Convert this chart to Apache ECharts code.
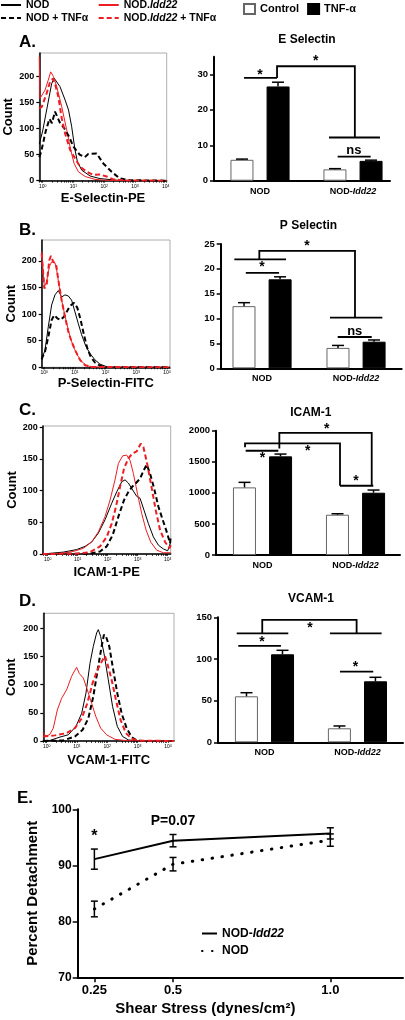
<!DOCTYPE html>
<html><head><meta charset="utf-8">
<script src="https://cdn.jsdelivr.net/npm/echarts@6/dist/echarts.min.js"></script>
<style>html,body{margin:0;padding:0;background:#fff}#c{width:405px;height:1020px}</style>
</head><body><div id="c"></div>
<script>
// ================= DATA =================
// Histograms: [log10 fluorescence, count]
const histNames = ['NOD', 'NOD + TNFα', 'NOD.Idd22', 'NOD.Idd22 + TNFα'];
const histTickExp = [0, 1, 2, 3, 4];
const histCountTicks = [0, 50, 100, 150, 200];

const histA_NOD = [[-0.11,70],[0.0,95],[0.29,185],[0.37,196],[0.56,180],[0.73,154],[0.84,135],[0.94,104],[1.05,59],[1.13,36],[1.27,20],[1.54,9],[1.86,4],[2.4,1],[3.0,0],[4.03,0]];
const histA_NOD_TNF = [[-0.11,45],[-0.05,55],[0.1,95],[0.22,118],[0.3,110],[0.4,132],[0.55,112],[0.7,100],[0.85,85],[1.0,65],[1.2,50],[1.37,45],[1.48,51],[1.75,52],[1.97,33],[2.24,17],[2.5,4.5],[2.84,1],[4.03,0]];
const histA_IDD = [[-0.11,237],[-0.09,157],[0.076,173],[0.18,192],[0.26,208],[0.35,199],[0.455,180],[0.62,141],[0.78,97],[0.91,59],[1.02,33],[1.16,17],[1.38,8],[1.7,2.5],[2.08,0.6],[4.03,0]];
const histA_IDD_TNF = [[-0.11,138],[-0.03,141],[0.13,167],[0.24,189],[0.33,195],[0.41,183],[0.51,160],[0.62,119],[0.73,90],[0.89,59],[1.05,43],[1.21,27],[1.43,17],[1.65,11],[1.86,12],[2.08,8],[2.3,2.5],[2.62,0.6],[4.03,0]];

const histB_NOD = [[-0.085,15],[-0.054,20],[0.022,32],[0.13,76],[0.239,117],[0.348,136],[0.457,144],[0.565,132],[0.674,136],[0.783,134],[0.891,126],[1.0,104],[1.109,82],[1.217,61],[1.359,39],[1.489,26],[1.652,14],[1.815,6],[2.033,1.2],[2.36,0],[4.1,0]];
const histB_NOD_TNF = [[-0.085,15],[-0.054,20],[0.022,29],[0.13,57],[0.239,89],[0.326,98],[0.424,92],[0.533,89],[0.641,95],[0.728,104],[0.837,115],[0.967,121],[1.076,112],[1.185,89],[1.293,61],[1.402,36],[1.511,20],[1.652,9],[1.815,3],[1.978,0.6],[2.3,0],[4.1,0]];
const histB_IDD = [[-0.085,217],[0,151],[0.076,161],[0.163,189],[0.239,198],[0.293,195],[0.348,196],[0.402,183],[0.511,142],[0.62,111],[0.728,83],[0.837,58],[0.946,39],[1.076,23],[1.217,11],[1.38,3],[1.6,0.6],[4.1,0]];
const histB_IDD_TNF = [[-0.085,214],[0,148],[0.076,154],[0.163,201],[0.217,209],[0.293,198],[0.38,195],[0.457,164],[0.565,126],[0.674,95],[0.783,67],[0.891,48],[1.033,29],[1.163,14],[1.326,4],[1.543,0.6],[4.1,0]];

const histC_NOD = [[-0.167,0],[0.522,3],[0.967,7],[1.244,12],[1.467,19],[1.689,33],[1.911,54],[2.133,80],[2.3,98],[2.467,114],[2.578,117],[2.689,112],[2.833,101],[2.967,91],[3.078,88],[3.211,69],[3.356,48],[3.522,27],[3.689,14],[3.856,8],[4.0,5],[4.1,19]];
const histC_NOD_TNF = [[-0.167,0],[1.411,0.5],[1.744,4],[1.967,12],[2.167,30],[2.356,59],[2.544,85],[2.689,98],[2.833,107],[2.944,112],[3.078,119],[3.211,133],[3.3,141],[3.411,127],[3.544,104],[3.689,75],[3.833,54],[3.967,35],[4.078,17],[4.1,27]];
const histC_IDD = [[-0.167,0],[0.411,1],[0.856,4],[1.189,9],[1.467,19],[1.689,35],[1.911,59],[2.078,85],[2.244,117],[2.356,143],[2.5,155],[2.633,156],[2.744,148],[2.856,127],[2.989,96],[3.133,64],[3.278,38],[3.433,19],[3.633,6],[3.856,2],[4.1,2]];
const histC_IDD_TNF = [[-0.167,0],[0.967,0.5],[1.411,3],[1.744,12],[1.967,27],[2.133,48],[2.278,75],[2.411,106],[2.544,135],[2.689,151],[2.833,159],[2.967,162],[3.1,174],[3.189,169],[3.322,141],[3.467,104],[3.611,67],[3.744,38],[3.911,19],[4.056,9],[4.1,14]];

const histD_NOD = [[-0.11,0],[0.11,1],[0.44,7],[0.714,11],[0.967,26],[1.154,49],[1.297,85],[1.429,138],[1.538,168],[1.648,192],[1.703,198],[1.78,186],[1.89,156],[2.033,109],[2.176,61],[2.33,26],[2.505,8],[2.692,2],[2.967,0],[4.2,0]];
const histD_NOD_TNF = [[-0.11,0],[0.549,1],[0.934,8],[1.187,20],[1.374,40],[1.538,79],[1.681,126],[1.813,168],[1.89,189],[1.956,186],[2.066,168],[2.198,126],[2.33,85],[2.473,49],[2.637,23],[2.802,7],[2.967,1],[3.187,0],[4.2,0]];
const histD_IDD = [[-0.11,15],[-0.022,8],[0.11,12],[0.22,23],[0.352,55],[0.495,76],[0.659,91],[0.824,115],[0.934,126],[0.989,131],[1.077,120],[1.209,112],[1.341,91],[1.484,67],[1.626,43],[1.78,23],[1.978,11],[2.253,3],[2.637,0.6],[4.2,0]];
const histD_IDD_TNF = [[-0.11,8],[0.275,10],[0.659,14],[0.934,23],[1.154,40],[1.341,67],[1.516,103],[1.67,126],[1.813,141],[1.923,151],[2.0,138],[2.143,109],[2.286,73],[2.44,37],[2.615,14],[2.802,4],[3.077,0.6],[4.2,0]];

// Bar charts (mean + SEM), groups: NOD, NOD-Idd22
const barGroups = ['NOD', 'NOD-Idd22'];
const eSelCtrl = [5.9, 3.2],   eSelCtrlSem = [0.2, 0.2];
const eSelTnf  = [26.6, 5.6],  eSelTnfSem  = [1.2, 0.2];
const pSelCtrl = [12.5, 4.1],  pSelCtrlSem = [0.7, 0.5];
const pSelTnf  = [17.9, 5.35], pSelTnfSem  = [0.5, 0.35];
const icamCtrl = [1088, 648],  icamCtrlSem = [81, 16];
const icamTnf  = [1587, 1002], icamTnfSem  = [37, 43];
const vcamCtrl = [55.2, 16.8], vcamCtrlSem = [4.3, 2.8];
const vcamTnf  = [105.6, 73.2],vcamTnfSem  = [4.8, 4.8];
const eSelTicks = [0, 10, 20, 30];
const pSelTicks = [0, 5, 10, 15, 20, 25];
const icamTicks = [0, 500, 1000, 1500, 2000];
const vcamTicks = [0, 50, 100, 150];

// Significance brackets: polylines in [group position, value]
const sigA_lines = [[[-0.172,29.0],[0.183,29.0]], [[0.183,29.0],[0.183,32.3],[1.02,32.3],[1.02,12.2]], [[0.742,12.2],[1.29,12.2]], [[0.835,6.8],[1.19,6.8]]];
const sigA_labels = [['*',0.0,30.8], ['*',0.60,34.5], ['ns',1.01,8.5]];
const sigB_lines = [[[-0.295,21.9],[0.255,21.9]], [[-0.029,21.9],[-0.029,23.6],[0.989,23.6],[0.989,10.2]], [[0.723,10.2],[1.28,10.2]], [[-0.173,19.2],[0.181,19.2]], [[0.805,6.3],[1.167,6.3]]];
const sigB_labels = [['*',0.479,25.2], ['*',0.0,20.9], ['ns',0.986,7.5]];
const sigC_lines = [[[-0.188,1732],[-0.188,1796],[0.833,1796],[0.833,1114]], [[0.181,1715],[0.181,1966],[1.174,1966],[1.174,1114]], [[-0.181,1677],[0.170,1677]], [[0.833,1114],[1.191,1114]]];
const sigC_labels = [['*',0.0,1608], ['*',0.486,1715], ['*',0.69,2079], ['*',1.005,1233]];
const sigD_lines = [[[-0.299,130.8],[0.256,130.8]], [[-0.024,130.8],[-0.024,146.8],[0.991,146.8],[0.991,130.8]], [[0.704,130.8],[1.26,130.8]], [[-0.282,115.6],[0.177,115.6]], [[0.812,84.7],[1.17,84.7]]];
const sigD_labels = [['*',0.489,140.8], ['*',-0.027,124], ['*',0.98,94]];

// Panel E: detachment vs shear stress
const shearX = [0.25, 0.5, 1.0];
const shearLabels = ['0.25', '0.5', '1.0'];
const detachIdd = [91.1, 94.4, 95.7], detachIddSem = [1.8, 1.1, 1.0];
const detachNod = [82.2, 90.2, 94.5], detachNodSem = [1.4, 1.2, 1.1];
const sigE_labels = [['*',0.25,95.7], ['P=0.07',0.5,97.8]];

// ================= STYLE / LAYOUT =================
const FONT = '"Liberation Sans", Arial, Helvetica, sans-serif';
const RED = '#ee1d23';
function tf(size, extra) { return Object.assign({fontFamily: FONT, fontWeight: 'bold', fontSize: size, color: '#000'}, extra || {}); }
const histStyle = {
  'NOD': {color: '#000', width: 1, type: 'solid'},
  'NOD + TNFα': {color: '#000', width: 2, type: [5, 3]},
  'NOD.Idd22': {color: RED, width: 1, type: 'solid'},
  'NOD.Idd22 + TNFα': {color: RED, width: 2, type: [5, 3]}
};
const histPanels = [
  {box: {left: 39.3, top: 53, width: 127.4, height: 127.7}, xmin: -0.11, xmax: 4.03, ymax: 244, xname: 'E-Selectin-PE', xGap: 11, yGap: 22, data: [histA_NOD, histA_NOD_TNF, histA_IDD, histA_IDD_TNF]},
  {box: {left: 41.7, top: 240, width: 128.3, height: 127.3}, xmin: -0.085, xmax: 4.1, ymax: 239, xname: 'P-Selectin-FITC', xGap: 10, yGap: 24, data: [histB_NOD, histB_NOD_TNF, histB_IDD, histB_IDD_TNF]},
  {box: {left: 42.7, top: 426, width: 128, height: 128}, xmin: -0.167, xmax: 4.1, ymax: 202, xname: 'ICAM-1-PE', xGap: 12, yGap: 24, data: [histC_NOD, histC_NOD_TNF, histC_IDD, histC_IDD_TNF]},
  {box: {left: 43.3, top: 613.3, width: 130.7, height: 127.7}, xmin: -0.11, xmax: 4.2, ymax: 227, xname: 'VCAM-1-FITC', xGap: 13, yGap: 25, data: [histD_NOD, histD_NOD_TNF, histD_IDD, histD_IDD_TNF]}
];
const barPanels = [
  {box: {left: 214, top: 56.7, width: 176, height: 124}, xmin: -0.495, xmax: 1.398, ymax: 35, ticks: eSelTicks, ctrl: eSelCtrl, ctrlSem: eSelCtrlSem, tnf: eSelTnf, tnfSem: eSelTnfSem, lines: sigA_lines, labels: sigA_labels},
  {box: {left: 220.7, top: 244, width: 181, height: 124.3}, xmin: -0.44, xmax: 1.486, ymax: 25, ticks: pSelTicks, ctrl: pSelCtrl, ctrlSem: pSelCtrlSem, tnf: pSelTnf, tnfSem: pSelTnfSem, lines: sigB_lines, labels: sigB_labels},
  {box: {left: 216, top: 430.7, width: 184, height: 124.3}, xmin: -0.5, xmax: 1.478, ymax: 2000, ticks: icamTicks, ctrl: icamCtrl, ctrlSem: icamCtrlSem, tnf: icamTnf, tnfSem: icamTnfSem, lines: sigC_lines, labels: sigC_labels},
  {box: {left: 218, top: 617.3, width: 185, height: 125}, xmin: -0.5, xmax: 1.49, ymax: 150, ticks: vcamTicks, ctrl: vcamCtrl, ctrlSem: vcamCtrlSem, tnf: vcamTnf, tnfSem: vcamTnfSem, lines: sigD_lines, labels: sigD_labels}
];
const BAR_W = 23, BAR_GAP = 13, BAR_OFF = (BAR_W + BAR_GAP) / 2;

// ================= BUILD =================
const grid = [], xAxis = [], yAxis = [], series = [];
const axLine = w => ({show: true, onZero: false, lineStyle: {color: '#000', width: w}});

function errSeries(g, xs, means, sems, offset, both, capHalf, lw) {
  return {
    type: 'custom', xAxisIndex: g, yAxisIndex: g, silent: true, z: 6, animation: false,
    data: means.map((m, i) => [xs[i], m, sems[i]]),
    renderItem: function (params, api) {
      const x = api.value(0), m = api.value(1), e = api.value(2);
      const pt = api.coord([x, m + e]);
      const pb = api.coord([x, both ? m - e : m]);
      const cx = pt[0] + offset;
      const st = {stroke: '#000', lineWidth: lw};
      const ch = [
        {type: 'line', shape: {x1: cx, y1: pb[1], x2: cx, y2: pt[1]}, style: st},
        {type: 'line', shape: {x1: cx - capHalf, y1: pt[1], x2: cx + capHalf, y2: pt[1]}, style: st}
      ];
      if (both) ch.push({type: 'line', shape: {x1: cx - capHalf, y1: pb[1], x2: cx + capHalf, y2: pb[1]}, style: st});
      return {type: 'group', children: ch};
    }
  };
}
function annotSeries(g, lines, labels, starSize, textSize) {
  return {
    type: 'custom', xAxisIndex: g, yAxisIndex: g, silent: true, z: 7, animation: false,
    data: [[0, 0]],
    renderItem: function (params, api) {
      const ch = [];
      lines.forEach(pts => {
        ch.push({type: 'polyline', shape: {points: pts.map(p => api.coord(p))}, style: {stroke: '#000', lineWidth: 1.8, fill: 'none'}});
      });
      labels.forEach(l => {
        const p = api.coord([l[1], l[2]]);
        const star = l[0] === '*';
        ch.push({type: 'text', x: p[0], y: p[1] + (star ? starSize * 0.22 : 0),
          style: {text: l[0], font: 'bold ' + (star ? starSize : textSize) + 'px ' + FONT, fill: '#000',
                  align: 'center', verticalAlign: 'middle', textAlign: 'center', textVerticalAlign: 'middle'}});
      });
      return {type: 'group', children: ch};
    }
  };
}

// Histograms
histPanels.forEach(p => {
  const g = grid.length;
  grid.push(Object.assign({show: true, borderColor: '#9a9a9a', borderWidth: 0.8, backgroundColor: 'transparent', outerBoundsMode: 'none', containLabel: false}, p.box));
  const minor = [];
  for (let d = -1; d <= 4; d++) for (let m = 1; m <= 9; m++) { const v = d + Math.log10(m); if (v >= p.xmin && v <= p.xmax) minor.push(v); }
  xAxis.push({gridIndex: g, type: 'value', min: p.xmin, max: p.xmax, axisLine: axLine(1.5),
    axisTick: {show: true, customValues: minor, length: 2, lineStyle: {color: '#000', width: 0.7}},
    axisLabel: {customValues: histTickExp, margin: 3, formatter: v => '{b|10}{s|' + v + '}',
      rich: {b: {fontFamily: FONT, fontSize: 5, color: '#000', verticalAlign: 'bottom'}, s: {fontFamily: FONT, fontSize: 3.5, color: '#000', verticalAlign: 'top'}}},
    splitLine: {show: false}, name: p.xname, nameLocation: 'middle', nameGap: p.xGap, nameTextStyle: tf(13)});
  yAxis.push({gridIndex: g, type: 'value', min: 0, max: p.ymax, axisLine: axLine(1.5),
    axisTick: {show: true, customValues: histCountTicks, length: 3, lineStyle: {color: '#000', width: 1.2}},
    axisLabel: Object.assign({customValues: histCountTicks, margin: 5}, tf(9)),
    splitLine: {show: false}, name: 'Count', nameLocation: 'middle', nameGap: p.yGap, nameTextStyle: tf(13)});
  histNames.forEach((nm, j) => {
    const s = histStyle[nm];
    series.push({type: 'line', name: nm, xAxisIndex: g, yAxisIndex: g, data: p.data[j], symbol: 'none', silent: true, animation: false,
      itemStyle: {color: s.color}, lineStyle: {color: s.color, width: s.width, type: s.type}, z: j % 2 ? 3 : 2});
  });
});

// Bar panels
barPanels.forEach(p => {
  const g = grid.length;
  grid.push(Object.assign({outerBoundsMode: 'none', containLabel: false}, p.box));
  xAxis.push({gridIndex: g, type: 'value', min: p.xmin, max: p.xmax, axisLine: axLine(2), axisTick: {show: false},
    axisLabel: Object.assign({customValues: [0, 1], margin: 6, formatter: v => barGroups[Math.round(v)].replace('Idd22', '{i|Idd22}'),
      rich: {i: tf(9, {fontStyle: 'italic'})}}, tf(9)),
    splitLine: {show: false}});
  yAxis.push({gridIndex: g, type: 'value', min: 0, max: p.ymax, axisLine: axLine(2),
    axisTick: {show: true, customValues: p.ticks, length: 4, lineStyle: {color: '#000', width: 1.5}},
    axisLabel: Object.assign({customValues: p.ticks, margin: 6, formatter: v => String(v)}, tf(9.5)), splitLine: {show: false}});
  const idx = barGroups.map((c, i) => i);
  series.push({type: 'bar', name: 'Control', xAxisIndex: g, yAxisIndex: g, data: p.ctrl.map((v, i) => [idx[i], v]),
    barWidth: BAR_W, barGap: (BAR_GAP / BAR_W * 100).toFixed(0) + '%', silent: true, animation: false,
    itemStyle: {color: '#fff', borderColor: '#666', borderWidth: 1}});
  series.push({type: 'bar', name: 'TNF-α', xAxisIndex: g, yAxisIndex: g, data: p.tnf.map((v, i) => [idx[i], v]),
    barWidth: BAR_W, barGap: (BAR_GAP / BAR_W * 100).toFixed(0) + '%', silent: true, animation: false,
    itemStyle: {color: '#000', borderColor: '#000', borderWidth: 1}});
  series.push(errSeries(g, idx, p.ctrl, p.ctrlSem, -BAR_OFF, false, 6, 1.5));
  series.push(errSeries(g, idx, p.tnf, p.tnfSem, BAR_OFF, false, 6, 1.5));
  series.push(annotSeries(g, p.lines, p.labels, 14, 13));
});

// Panel E
const gE = grid.length;
grid.push({left: 77.7, top: 809.3, width: 325.3, height: 168, outerBoundsMode: 'none', containLabel: false});
xAxis.push({gridIndex: gE, type: 'value', min: 0.197, max: 1.231, axisLine: axLine(2),
  axisTick: {show: true, customValues: shearX, length: 5, lineStyle: {color: '#000', width: 1.5}},
  axisLabel: Object.assign({customValues: shearX, margin: 7,
    formatter: v => shearLabels[shearX.findIndex(s => Math.abs(s - v) < 1e-6)]}, tf(13)),
  splitLine: {show: false}, name: 'Shear Stress (dynes/cm²)', nameLocation: 'middle', nameGap: 24,
  nameTextStyle: tf(15, {padding: [0, 70, 0, 0]})});
yAxis.push({gridIndex: gE, type: 'value', min: 70, max: 100, interval: 10, axisLine: axLine(2),
  axisTick: {show: true, length: 5, lineStyle: {color: '#000', width: 1.5}},
  axisLabel: Object.assign({margin: 6}, tf(12)), splitLine: {show: false},
  name: 'Percent Detachment', nameLocation: 'middle', nameGap: 31, nameTextStyle: tf(15)});
series.push({type: 'line', name: 'NOD-Idd22', xAxisIndex: gE, yAxisIndex: gE, data: shearX.map((x, i) => [x, detachIdd[i]]),
  symbol: 'none', silent: true, animation: false, itemStyle: {color: '#000'}, lineStyle: {color: '#000', width: 2}});
series.push({type: 'line', name: 'NOD ', xAxisIndex: gE, yAxisIndex: gE, data: shearX.map((x, i) => [x, detachNod[i]]),
  symbol: 'none', silent: true, animation: false, itemStyle: {color: '#000'}, lineStyle: {color: '#000', width: 3, type: [0.5, 9.5], cap: 'round'}});
series.push(errSeries(gE, shearX, detachIdd, detachIddSem, 0, true, 3.5, 1.5));
series.push(errSeries(gE, shearX, detachNod, detachNodSem, 0, true, 3.5, 1.5));
series.push(annotSeries(gE, [], sigE_labels, 16, 14));

const italicFmt = name => name.replace('Idd22', '{i|Idd22}');
const lineLegend = {orient: 'vertical', padding: 0, selectedMode: false, formatter: italicFmt, itemStyle: {opacity: 0, borderWidth: 0}};
const option = {
  animation: false,
  backgroundColor: '#fff',
  grid, xAxis, yAxis, series,
  title: [
    {text: 'A.', left: 19, top: 34},
    {text: 'B.', left: 19, top: 221.5},
    {text: 'C.', left: 19, top: 401.5},
    {text: 'D.', left: 19, top: 593},
    {text: 'E.', left: 17, top: 790}
  ].map(t => Object.assign({padding: 0, textStyle: tf(17)}, t)).concat([
    {text: 'E Selectin', left: 307, top: 34},
    {text: 'P Selectin', left: 308.5, top: 220},
    {text: 'ICAM-1', left: 310.8, top: 407},
    {text: 'VCAM-1', left: 311, top: 593}
  ].map(t => Object.assign({padding: 0, textAlign: 'center', textStyle: tf(12)}, t))),
  legend: [
    Object.assign({data: ['NOD', 'NOD + TNFα'], left: 0, top: -1, itemWidth: 20, itemHeight: 10, itemGap: 1,
     textStyle: tf(10.5, {lineHeight: 12, rich: {i: tf(10.5, {fontStyle: 'italic'})}})}, lineLegend),
    Object.assign({data: ['NOD.Idd22', 'NOD.Idd22 + TNFα'], left: 97.7, top: -1, itemWidth: 20, itemHeight: 10, itemGap: 1,
     textStyle: tf(10.5, {lineHeight: 12, rich: {i: tf(10.5, {fontStyle: 'italic'})}})}, lineLegend),
    {data: ['Control', 'TNF-α'], orient: 'horizontal', left: 243, top: 3, padding: 0, itemWidth: 11, itemHeight: 10, itemGap: 8,
     icon: 'rect', selectedMode: false, textStyle: tf(11)},
    Object.assign({data: ['NOD-Idd22', 'NOD '], left: 201, top: 927, itemWidth: 15, itemHeight: 8, itemGap: 4.4,
     textStyle: tf(12, {lineHeight: 13, rich: {i: tf(12, {fontStyle: 'italic'})}})}, lineLegend)
  ]
};
const chart = echarts.init(document.getElementById('c'), null, {renderer: 'canvas'});
chart.setOption(option);
</script>
</body></html>
